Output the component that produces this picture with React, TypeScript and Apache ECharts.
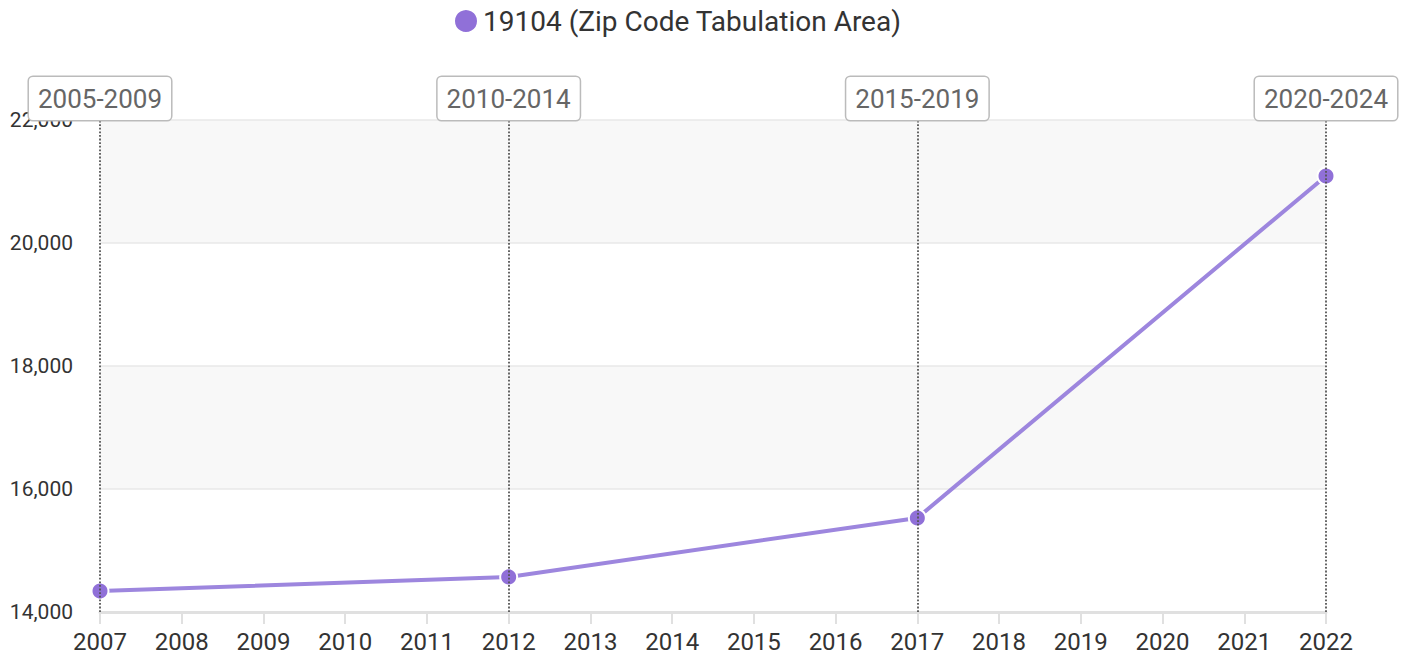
import React, { useEffect, useRef } from "react";
import * as echarts from "echarts";

const seriesName = "19104 (Zip Code Tabulation Area)";
const years = [2007, 2012, 2017, 2022];
const values = [14340, 14570, 15530, 21090];
const periodLabels = ["2005-2009", "2010-2014", "2015-2019", "2020-2024"];

export default function App() {
  const ref = useRef<HTMLDivElement>(null);
  useEffect(() => {
    if (!ref.current) return;
    const chart = echarts.init(ref.current, undefined, { renderer: "svg" });
    const font = "Roboto, 'Noto Sans', sans-serif";
    chart.setOption({
      animation: false,
      textStyle: { fontFamily: font },
      legend: {
        top: 2,
        left: 448,
        icon: "circle",
        itemWidth: 24,
        itemHeight: 24,
        itemGap: 10,
        textStyle: { fontSize: 28, color: "#333", fontFamily: font },
        data: [seriesName],
      },
      grid: { left: 100, right: 85, top: 120, bottom: 48 },
      xAxis: {
        type: "value",
        min: 2007,
        max: 2022,
        interval: 1,
        axisLine: { show: true, lineStyle: { color: "#e0e0e0", width: 3 } },
        axisTick: { show: true, length: 12, lineStyle: { color: "#e0e0e0", width: 2 } },
        axisLabel: {
          fontSize: 24,
          color: "#333",
          margin: 18,
          formatter: (v: number) => String(v),
        },
        splitLine: { show: false },
      },
      yAxis: {
        type: "value",
        min: 14000,
        max: 22000,
        interval: 2000,
        axisLine: { show: false },
        axisTick: { show: false },
        axisLabel: { fontSize: 21, color: "#333", margin: 27 },
        splitLine: { show: true, lineStyle: { color: "#e8e8e8", width: 1.5 } },
        splitArea: { show: true, areaStyle: { color: ["#ffffff", "#f8f8f8"] } },
      },
      series: [
        {
          name: seriesName,
          type: "line",
          data: years.map((y, i) => [y, values[i]]),
          symbol: "circle",
          symbolSize: 17,
          itemStyle: { color: "#9070d8", borderColor: "#ffffff", borderWidth: 2 },
          lineStyle: { color: "#9d86de", width: 4 },
          z: 3,
          markLine: {
            silent: true,
            symbol: ["none", "none"],
            lineStyle: { color: "#555", type: "dotted", width: 1.8 },
            label: {
              show: true,
              position: "end",
              distance: 0,
              fontSize: 26,
              color: "#666",
              backgroundColor: "#fff",
              borderColor: "#bbb",
              borderWidth: 1.5,
              borderRadius: 4,
              padding: [9, 9, 8, 9],
              formatter: (p: any) => periodLabels[years.indexOf(p.value)] ?? "",
            },
            data: years.map((y) => ({ xAxis: y })),
          },
        },
      ],
    });
    return () => chart.dispose();
  }, []);
  return <div ref={ref} style={{ width: 1411, height: 660, margin: -8 }} />;
}
